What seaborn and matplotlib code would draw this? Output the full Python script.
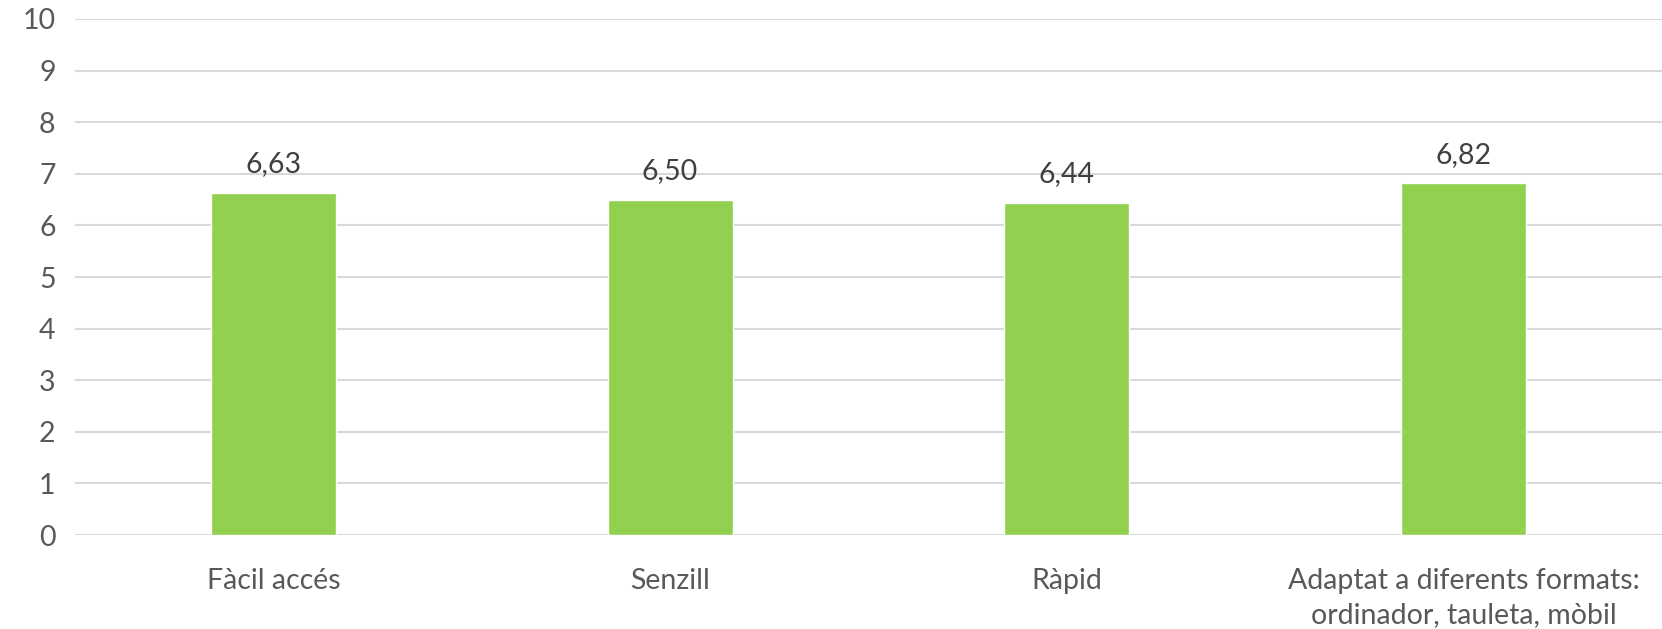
import matplotlib
matplotlib.use('Agg')
import matplotlib.pyplot as plt
import seaborn as sns
import pandas as pd

# dades
categories = ['Fàcil accés', 'Senzill', 'Ràpid',
              'Adaptat a diferents formats:\nordinador, tauleta, mòbil']
values = [6.63, 6.50, 6.44, 6.82]
labels = ['6,63', '6,50', '6,44', '6,82']

df = pd.DataFrame({'cat': categories, 'val': values})

sns.set_style('white')
plt.rcParams['font.family'] = ['Lato', 'DejaVu Sans']

fig = plt.figure(figsize=(16.62, 6.29), dpi=100)
ax = fig.add_axes([0.0451, 0.1494, 0.9549, 0.8204])

sns.barplot(x='cat', y='val', data=df, ax=ax, color='#92D050',
            width=0.315, saturation=1)

ax.set_ylim(0, 10)
ax.set_xlim(-0.5, 3.5)
ax.set_yticks(range(0, 11))
ax.yaxis.grid(True, color='#D9D9D9', linewidth=1.5)
ax.set_axisbelow(True)
for s in ax.spines.values():
    s.set_visible(False)
ax.set_xlabel('')
ax.set_ylabel('')
ax.tick_params(axis='y', length=0, pad=14, labelsize=20.5, labelcolor='#595959')
ax.tick_params(axis='x', length=0, pad=24, labelsize=20.5, labelcolor='#595959')
for lab in ax.get_xticklabels():
    lab.set_linespacing(1.35)

for i, (v, t) in enumerate(zip(values, labels)):
    ax.text(i, v + 0.3, t, ha='center', va='bottom', fontsize=20.5, color='#404040')

fig.savefig('out.png', dpi=100)
